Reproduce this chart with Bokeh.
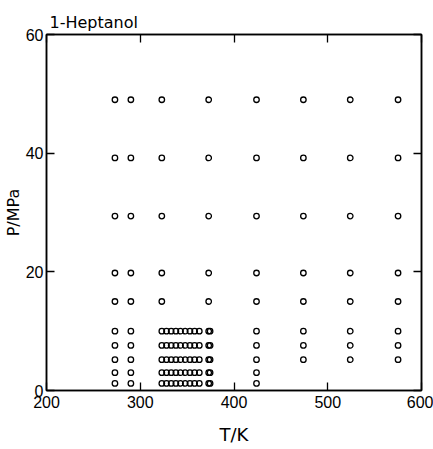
from bokeh.plotting import figure
from bokeh.models import LinearAxis, FixedTicker, Range1d, ColumnDataSource
from bokeh.embed import file_html
from bokeh.resources import INLINE

# ---- data ----
title_text = "1-Heptanol"
x_label = "T/K"
y_label = "P/MPa"
x_ticks = [200, 300, 400, 500, 600]
y_ticks = [0, 20, 40, 60]

# temperatures (K) measured at each pressure level (MPa)
T_at_49 = [273, 290, 323, 373, 424, 474, 524, 575]
T_at_39 = [273, 290, 323, 373, 424, 474, 524, 575]
T_at_29 = [273, 290, 323, 373, 424, 474, 524, 575]
T_at_20 = [273, 290, 323, 373, 424, 474, 524, 575]
T_at_15 = [273, 290, 323, 373, 424, 474, 524, 575]
T_at_10 = [273, 290, 323, 328, 333, 338, 343, 348, 353, 358, 363, 373, 374.5, 424, 474, 524, 575]
T_at_7 = [273, 290, 323, 328, 333, 338, 343, 348, 353, 358, 363, 373, 374.5, 424, 474, 524, 575]
T_at_5 = [273, 290, 323, 328, 333, 338, 343, 348, 353, 358, 363, 373, 374.5, 424, 474, 524, 575]
T_at_3 = [273, 290, 323, 328, 333, 338, 343, 348, 353, 358, 363, 373, 374.5, 424]
T_at_1 = [273, 290, 323, 328, 333, 338, 343, 348, 353, 358, 363, 373, 374.5, 424]

pressure_levels = [49.0, 39.2, 29.4, 19.8, 15.0, 10.0, 7.6, 5.2, 3.0, 1.2]
temps_by_level = [T_at_49, T_at_39, T_at_29, T_at_20, T_at_15,
                  T_at_10, T_at_7, T_at_5, T_at_3, T_at_1]

xs, ys = [], []
for P, Ts in zip(pressure_levels, temps_by_level):
    for T in Ts:
        xs.append(T)
        ys.append(P)
src = ColumnDataSource(dict(T=xs, P=ys))

TICK_FONT = "Liberation Sans"
LABEL_FONT = "DejaVu Sans"

p = figure(frame_width=375, frame_height=356,
           x_range=Range1d(200, 600), y_range=Range1d(0, 60),
           output_backend="svg", toolbar_location=None,
           min_border_left=46, min_border_right=12,
           min_border_top=34, min_border_bottom=59,
           background_fill_color="white", border_fill_color="white")

p.title.text = title_text
p.title.align = "left"
p.title.offset = 3
p.title.standoff = 6
p.title.text_font = LABEL_FONT
p.title.text_font_size = "16px"
p.title.text_font_style = "normal"
p.title.text_color = "black"

p.xgrid.visible = False
p.ygrid.visible = False
p.outline_line_color = "black"
p.outline_line_width = 1.5

def style_axis(ax, ticks):
    ax.ticker = FixedTicker(ticks=ticks)
    ax.major_tick_in = 8
    ax.major_tick_out = 0
    ax.minor_tick_in = 0
    ax.minor_tick_out = 0
    ax.major_tick_line_color = "black"
    ax.major_tick_line_width = 1.3
    ax.axis_line_color = "black"
    ax.axis_line_width = 1.5
    ax.major_label_text_font = TICK_FONT
    ax.major_label_text_font_size = "16px"
    ax.major_label_text_color = "black"
    ax.axis_label_text_font = LABEL_FONT
    ax.axis_label_text_font_size = "16px"
    ax.axis_label_text_font_style = "normal"
    ax.axis_label_text_color = "black"

style_axis(p.xaxis[0], x_ticks)
p.xaxis[0].axis_label = x_label
p.xaxis[0].axis_label_text_font_size = "18px"
p.xaxis[0].major_label_standoff = 5
p.xaxis[0].axis_label_standoff = 13

style_axis(p.yaxis[0], y_ticks)
p.yaxis[0].axis_label = y_label
p.yaxis[0].major_label_standoff = 3
p.yaxis[0].axis_label_standoff = 0

top = LinearAxis()
style_axis(top, x_ticks)
top.major_label_text_font_size = "0px"
top.major_label_standoff = 0
p.add_layout(top, "above")

right = LinearAxis()
style_axis(right, y_ticks)
right.major_label_text_font_size = "0px"
right.major_label_standoff = 0
p.add_layout(right, "right")

p.scatter("T", "P", source=src, marker="circle", size=5.5,
          fill_color=None, line_color="black", line_width=1.3)

open("out.html", "w").write(file_html(p, INLINE))
